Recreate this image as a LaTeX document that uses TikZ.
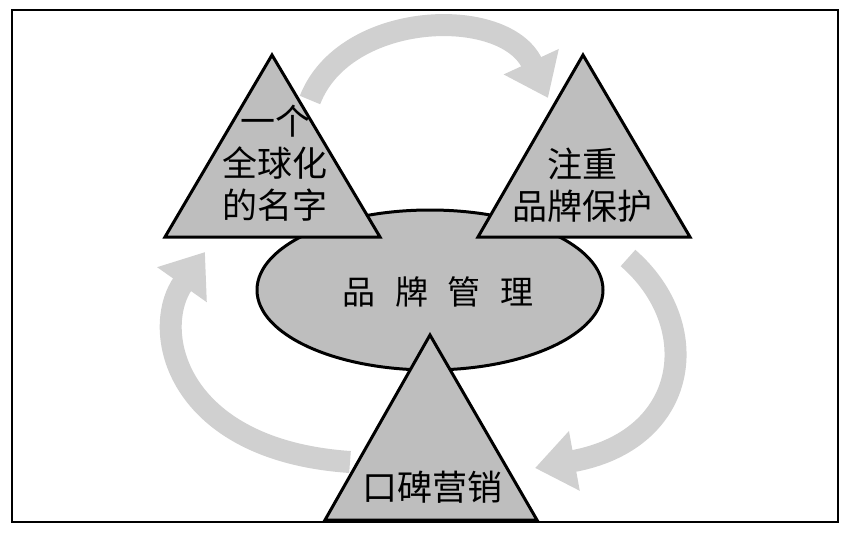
\documentclass[tikz,border=0pt]{standalone}
\usepackage{fontspec}
\newfontfamily\cjk{Noto Sans CJK SC}
\usetikzlibrary{arrows.meta,shapes.geometric}
\definecolor{tri}{RGB}{190,190,190}
\definecolor{arr}{RGB}{208,208,208}
\tikzset{
 tribox/.style={draw=black,line width=3pt,fill=tri},
 cyc/.style={draw=arr,line width=22pt,-{Triangle[width=58pt,length=40pt]}},
 lbl/.style={font=\cjk\fontsize{35}{42}\selectfont,align=center}
}
\begin{document}
\begin{tikzpicture}[x=1pt,y=-1pt]
\useasboundingbox (0,0) rectangle (849,533);
\draw[line width=1.2pt] (12,10) rectangle (838,522);
\coordinate (t1) at (310,100);
\coordinate (t2) at (548,98);
\coordinate (r1) at (628,258);
\coordinate (r2) at (535,468);
\coordinate (l1) at (350,462);
\coordinate (l2) at (205,252);
\draw[cyc] (t1) .. controls (345,10) and (505,5) .. (t2);
\draw[cyc] (r1) .. controls (705,325) and (690,440) .. (r2);
\draw[cyc] (l1) .. controls (175,450) and (150,330) .. (l2);
\node[draw=black,line width=3pt,fill=tri,ellipse,minimum width=346pt,minimum height=160pt] (e) at (430,290) {};
\node[lbl,font=\cjk\fontsize{33}{38}\selectfont] (et) at (438,292) {品\hspace{20pt}牌\hspace{20pt}管\hspace{20pt}理};
\draw[tribox] (272,55) -- (380,237) -- (165,237) -- cycle;
\draw[tribox] (583,55) -- (690,237) -- (478,237) -- cycle;
\draw[tribox] (430,335) -- (537,520) -- (325,520) -- cycle;
\node[lbl] (a) at (275,163) {一个\\全球化\\的名字};
\node[lbl] (b) at (582,185) {注重\\品牌保护};
\node[lbl] (c) at (432,487) {口碑营销};
\end{tikzpicture}
\end{document}
